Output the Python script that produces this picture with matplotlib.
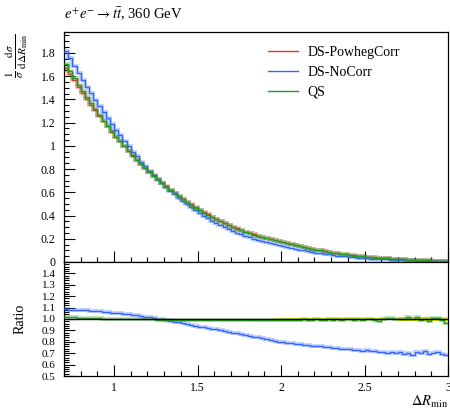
import numpy as np
import matplotlib
matplotlib.use("Agg")
import matplotlib.pyplot as plt
from matplotlib.ticker import MultipleLocator, FixedLocator, FormatStrFormatter, FuncFormatter

plt.rcParams['font.family'] = ['Liberation Serif', 'DejaVu Serif']
plt.rcParams['mathtext.fontset'] = 'stix'

# ---------------- data ----------------
process_label = r"$e^{+}e^{-}\rightarrow t\bar{t}$, 360 GeV"
series_names = ["DS-PowhegCorr", "DS-NoCorr", "QS"]
x_lo, x_hi, n_bins = 0.7, 3.0, 92

# normalised distribution for the reference sample (DS-PowhegCorr)
powheg_corr = [
    1.673, 1.618, 1.563, 1.508,
    1.455, 1.405, 1.355, 1.305,
    1.258, 1.213, 1.168, 1.123,
    1.079, 1.038, 0.997, 0.956,
    0.917, 0.881, 0.844, 0.808,
    0.774, 0.743, 0.712, 0.681,
    0.651, 0.624, 0.596, 0.569,
    0.543, 0.519, 0.496, 0.472,
    0.450, 0.430, 0.410, 0.390,
    0.371, 0.354, 0.336, 0.319,
    0.303, 0.289, 0.276, 0.262,
    0.249, 0.238, 0.227, 0.216,
    0.206, 0.197, 0.188, 0.179,
    0.171, 0.162, 0.153, 0.144,
    0.136, 0.129, 0.121, 0.114,
    0.107, 0.100, 0.093, 0.086,
    0.080, 0.075, 0.070, 0.065,
    0.060, 0.056, 0.052, 0.048,
    0.045, 0.042, 0.039, 0.036,
    0.033, 0.031, 0.028, 0.026,
    0.024, 0.022, 0.021, 0.019,
    0.017, 0.016, 0.015, 0.014,
    0.0126, 0.012, 0.011, 0.0104,
]

# ratio of DS-NoCorr to the reference
nocorr_ratio = [
    1.085, 1.083, 1.081, 1.079,
    1.077, 1.075, 1.073, 1.071,
    1.068, 1.064, 1.061, 1.057,
    1.053, 1.050, 1.046, 1.042,
    1.037, 1.031, 1.025, 1.020,
    1.015, 1.009, 1.002, 0.996,
    0.990, 0.984, 0.977, 0.970,
    0.962, 0.957, 0.948, 0.941,
    0.934, 0.928, 0.922, 0.915,
    0.909, 0.902, 0.894, 0.886,
    0.880, 0.873, 0.866, 0.859,
    0.853, 0.846, 0.838, 0.830,
    0.822, 0.814, 0.806, 0.800,
    0.794, 0.790, 0.786, 0.782,
    0.779, 0.776, 0.771, 0.767,
    0.763, 0.760, 0.755, 0.752,
    0.750, 0.745, 0.741, 0.738,
    0.735, 0.731, 0.727, 0.722,
    0.724, 0.716, 0.719, 0.711,
    0.713, 0.700, 0.712, 0.701,
    0.709, 0.693, 0.706, 0.686,
    0.713, 0.700, 0.717, 0.695,
    0.702, 0.708, 0.690, 0.682,
]

# ratio of QS to the reference
qs_ratio = [
    1.020, 1.017, 1.015, 1.013,
    1.011, 1.009, 1.008, 1.006,
    1.005, 1.004, 1.003, 1.002,
    1.001, 1.000, 0.999, 0.999,
    0.998, 0.998, 0.997, 0.997,
    0.996, 0.996, 0.995, 0.995,
    0.994, 0.995, 0.993, 0.994,
    0.993, 0.991, 0.993, 0.990,
    0.992, 0.990, 0.993, 0.991,
    0.989, 0.992, 0.990, 0.993,
    0.990, 0.987, 0.992, 0.990,
    0.993, 0.989, 0.991, 0.994,
    0.990, 0.993, 0.988, 0.992,
    0.995, 0.991, 0.994, 0.989,
    0.993, 0.996, 0.990, 0.994,
    0.997, 0.992, 0.995, 0.998,
    0.994, 0.999, 0.993, 0.997,
    1.002, 0.995, 0.999, 0.993,
    0.998, 1.003, 0.990, 0.985,
    0.996, 1.008, 1.012, 1.000,
    1.003, 0.998, 1.015, 1.004,
    1.020, 0.995, 1.000, 0.983,
    1.005, 1.006, 0.990, 0.965,
]

# relative statistical uncertainty of the reference sample
powheg_rel_err = [
    0.002, 0.002, 0.002, 0.002,
    0.002, 0.002, 0.002, 0.002,
    0.002, 0.002, 0.002, 0.002,
    0.002, 0.002, 0.002, 0.002,
    0.002, 0.002, 0.002, 0.002,
    0.002, 0.002, 0.002, 0.002,
    0.002, 0.002, 0.003, 0.003,
    0.003, 0.003, 0.003, 0.003,
    0.003, 0.003, 0.003, 0.003,
    0.003, 0.003, 0.003, 0.003,
    0.003, 0.003, 0.004, 0.004,
    0.004, 0.004, 0.004, 0.004,
    0.004, 0.004, 0.005, 0.005,
    0.005, 0.005, 0.005, 0.005,
    0.006, 0.006, 0.006, 0.006,
    0.007, 0.007, 0.007, 0.007,
    0.008, 0.008, 0.008, 0.009,
    0.009, 0.009, 0.010, 0.010,
    0.010, 0.011, 0.011, 0.012,
    0.012, 0.012, 0.013, 0.013,
    0.014, 0.014, 0.015, 0.015,
    0.016, 0.016, 0.017, 0.017,
    0.018, 0.018, 0.019, 0.019,
]

main_yticks = [0.0, 0.2, 0.4, 0.6, 0.8, 1.0, 1.2, 1.4, 1.6, 1.8]
ratio_yticks = [0.5, 0.6, 0.7, 0.8, 0.9, 1.0, 1.1, 1.2, 1.3, 1.4]
xticks = [1.0, 1.5, 2.0, 2.5, 3.0]

# ---------------- derived series ----------------
edges = np.linspace(x_lo, x_hi, n_bins + 1)
ref = np.array(powheg_corr)
r_nocorr = np.array(nocorr_ratio)
r_qs = np.array(qs_ratio)
rel_err = np.array(powheg_rel_err)
nocorr = ref * r_nocorr
qs = ref * r_qs

colors = {"DS-PowhegCorr": "#d93a22", "DS-NoCorr": "#3366ff", "QS": "#239b23"}

fig = plt.figure(figsize=(4.5, 4.12), dpi=100)
ax = fig.add_axes([64 / 450, 1 - 262 / 412, 384 / 450, 230 / 412])
rax = fig.add_axes([64 / 450, 1 - 376 / 412, 384 / 450, 114 / 412], sharex=ax)


def draw_step(axis, vals, color, label=None, z=2):
    axis.stairs(vals, edges, baseline=None, color=color, lw=2.8, alpha=0.3, zorder=z)
    axis.stairs(vals, edges, baseline=None, color=color, lw=1.0, label=label, zorder=z + 0.5)


# main panel
draw_step(ax, ref, colors["DS-PowhegCorr"], "DS-PowhegCorr", z=2)
draw_step(ax, nocorr, colors["DS-NoCorr"], "DS-NoCorr", z=3)
draw_step(ax, qs, colors["QS"], "QS", z=4)

# ratio panel
rax.stairs(1 + rel_err, edges, baseline=1 - rel_err, fill=True, color="#ffee00", lw=0, zorder=1)
rax.axhline(1.0, color="black", lw=1.0, zorder=5)
draw_step(rax, r_nocorr, colors["DS-NoCorr"], z=3)
draw_step(rax, r_qs, colors["QS"], z=4)

ax.set_xlim(x_lo, x_hi)
ax.set_ylim(0, 1.98)
rax.set_ylim(0.5, 1.5)

for a in (ax, rax):
    a.tick_params(axis="both", which="both", direction="in", top=False, right=False)
    a.tick_params(which="major", length=8, width=0.8, labelsize=8.5, pad=6)
    a.tick_params(which="minor", length=3.8, width=0.8)
    a.xaxis.set_minor_locator(MultipleLocator(0.1))
    a.set_xticks(xticks)
    for s in a.spines.values():
        s.set_linewidth(0.9)

ax.tick_params(axis="x", labelbottom=False)
ax.yaxis.set_major_locator(FixedLocator(main_yticks))
ax.yaxis.set_minor_locator(MultipleLocator(0.05))
ax.yaxis.set_major_formatter(FuncFormatter(lambda v, p: f"{v:g}"))

rax.yaxis.set_major_locator(FixedLocator(ratio_yticks))
rax.yaxis.set_minor_locator(MultipleLocator(0.02))
rax.yaxis.set_major_formatter(FormatStrFormatter("%.1f"))
rax.tick_params(axis="y", which="major", labelsize=8)
rax.tick_params(axis="x", which="major", pad=4)
rax.xaxis.set_major_formatter(FuncFormatter(lambda v, p: f"{v:g}"))

leg = ax.legend(loc="upper left", bbox_to_anchor=(0.531, 0.94), frameon=False,
                fontsize=10, handlelength=2.2, handletextpad=0.65,
                labelspacing=0.5, borderpad=0, borderaxespad=0)

fig.text(64 / 450, 1 - 19 / 412, process_label, fontsize=10.5, ha="left", va="baseline")
fig.text(17 / 450, 1 - 33 / 412,
         r"$\frac{1}{\sigma}\,\frac{\mathrm{d}\sigma}{\mathrm{d}\Delta R_{\mathrm{min}}}$",
         rotation=90, ha="center", va="top", fontsize=11.5)
fig.text(20 / 450, 1 - 319 / 412, "Ratio", rotation=90, ha="center", va="center", fontsize=10)
fig.text(448 / 450, 1 - 406 / 412, r"$\Delta R_{\mathrm{min}}$", ha="right", va="baseline", fontsize=10.5)

fig.savefig("out.png", dpi=100)
